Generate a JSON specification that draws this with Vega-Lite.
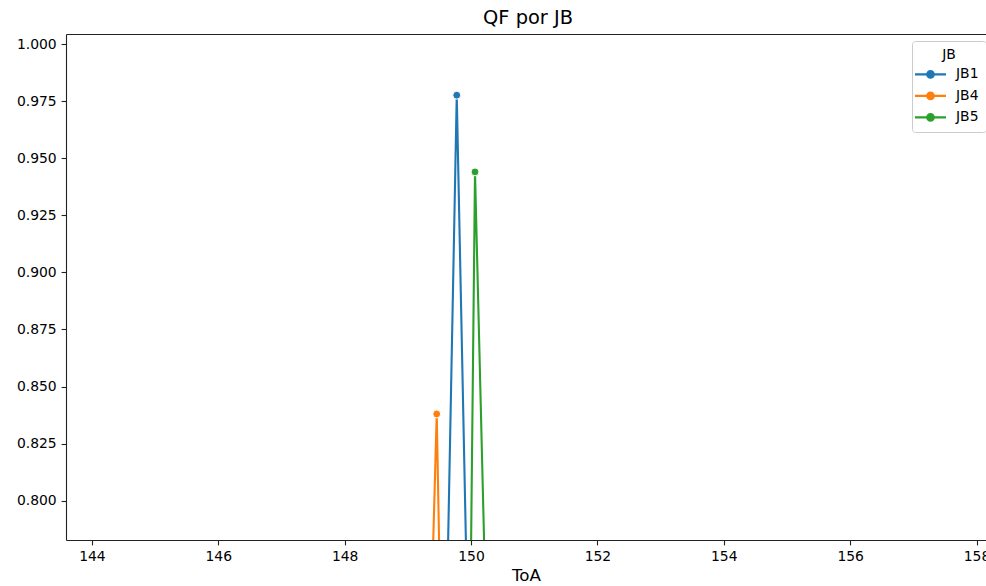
{
  "$schema": "https://vega.github.io/schema/vega-lite/v6.json",
  "autosize": "none",
  "width": 920,
  "height": 506,
  "padding": {"left": 66, "top": 34, "right": 0, "bottom": 46},
  "background": "white",
  "title": {"text": "QF por JB", "fontSize": 19.4, "font": "DejaVu Sans", "fontWeight": "normal", "color": "#000", "offset": 6, "dx": 2},
  "config": {
    "view": {"stroke": null},
    "font": "DejaVu Sans",
    "axis": {"grid": false, "domainColor": "#222", "domainWidth": 1.1, "tickColor": "#222", "tickWidth": 1.1, "tickSize": 4.9, "labelPadding": 4.9, "labelFont": "DejaVu Sans", "labelFontSize": 13.9, "labelColor": "#000", "titleFont": "DejaVu Sans", "titleFontWeight": "normal", "titleColor": "#000"}
  },
  "data": {"values": [
    {"JB": "JB1", "ToA": 149.58, "QF": 0.70},
    {"JB": "JB1", "ToA": 149.774, "QF": 0.9776},
    {"JB": "JB1", "ToA": 149.98, "QF": 0.70},
    {"JB": "JB4", "ToA": 149.32, "QF": 0.70},
    {"JB": "JB4", "ToA": 149.457, "QF": 0.838},
    {"JB": "JB4", "ToA": 149.55, "QF": 0.70},
    {"JB": "JB5", "ToA": 149.97, "QF": 0.70},
    {"JB": "JB5", "ToA": 150.063, "QF": 0.944},
    {"JB": "JB5", "ToA": 150.28, "QF": 0.70}
  ]},
  "encoding": {
    "y": {"field": "QF", "type": "quantitative", "scale": {"domain": [0.7828, 1.0044], "nice": false, "zero": false},
          "axis": {"values": [0.8, 0.825, 0.85, 0.875, 0.9, 0.925, 0.95, 0.975, 1.0], "format": ".3f", "title": null}},
    "color": {"field": "JB", "type": "nominal", "scale": {"domain": ["JB1", "JB4", "JB5"], "range": ["#1f77b4", "#ff7f0e", "#2ca02c"]}}
  },
  "layer": [
    {
      "mark": {"type": "line", "strokeWidth": 2.1, "clip": true},
      "encoding": {
        "x": {"field": "ToA", "type": "quantitative", "scale": {"domain": [143.59, 158.15], "nice": false, "zero": false},
              "axis": {"orient": "bottom", "values": [144, 146, 148, 150, 152, 154, 156, 158], "format": "d", "title": "ToA", "titleFontSize": 16.7, "titlePadding": 4}},
        "order": {"field": "ToA", "type": "quantitative"},
        "color": {"field": "JB", "type": "nominal", "scale": {"domain": ["JB1", "JB4", "JB5"], "range": ["#1f77b4", "#ff7f0e", "#2ca02c"]},
          "legend": {
            "orient": "none", "legendX": 846, "legendY": 7,
            "title": "JB", "titleAnchor": "middle", "titleFontSize": 13.9, "titleFontWeight": "normal", "titleColor": "#000", "titleFont": "DejaVu Sans", "titlePadding": 1,
            "labelFontSize": 13.9, "labelFont": "DejaVu Sans", "labelColor": "#000", "labelOffset": 14,
            "symbolType": "M-1.55,0H-0.33M0.33,0H1.55M-0.33,0A0.33,0.33,0,1,1,0.33,0A0.33,0.33,0,1,1,-0.33,0Z",
            "symbolSize": 400, "symbolStrokeWidth": 2.1,
            "fillColor": "rgba(255,255,255,0.8)", "strokeColor": "#cccccc", "cornerRadius": 3, "padding": 7, "rowPadding": 1.5,
            "encode": {"symbols": {"update": {"fill": {"scale": "color", "field": "value"}, "stroke": {"scale": "color", "field": "value"}}}}
          }}
      }
    },
    {
      "mark": {"type": "point", "filled": true, "size": 62, "stroke": "white", "strokeWidth": 1, "opacity": 1, "clip": true},
      "encoding": {
        "x": {"field": "ToA", "type": "quantitative", "axis": null},
        "color": {"field": "JB", "type": "nominal", "legend": null}
      }
    },
    {
      "mark": {"type": "point", "opacity": 0},
      "encoding": {
        "x": {"field": "ToA", "type": "quantitative", "axis": {"orient": "top", "labels": false, "ticks": false, "title": null, "domain": true}},
        "color": {"field": "JB", "type": "nominal", "legend": null}
      }
    }
  ],
  "resolve": {"axis": {"x": "independent"}}
}
